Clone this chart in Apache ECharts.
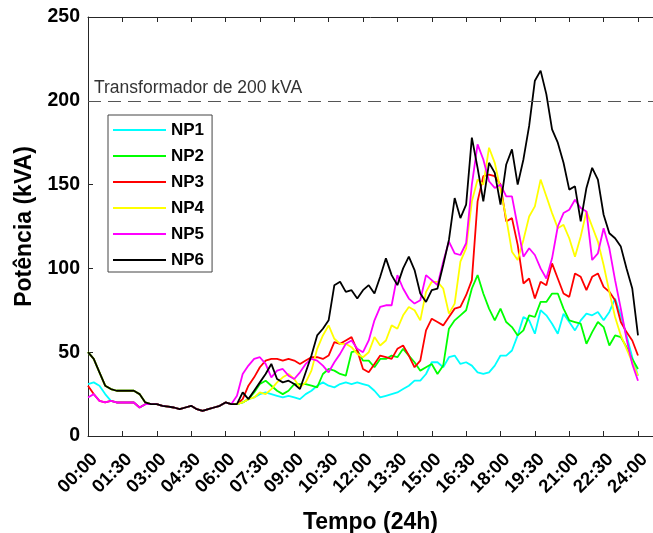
<!DOCTYPE html>
<html>
<head>
<meta charset="utf-8">
<script src="https://cdn.jsdelivr.net/npm/echarts@6/dist/echarts.min.js"></script>
<style>
  html, body { margin: 0; padding: 0; background: #fff; }
  #chart { width: 653px; height: 533px; }
</style>
</head>
<body>
<div id="chart"></div>
<script>
// 15-minute samples, 00:00 .. 24:00
var hours = [];
for (var i = 0; i <= 96; i++) hours.push(i / 4);

var seriesNames = ['NP1', 'NP2', 'NP3', 'NP4', 'NP5', 'NP6'];
var seriesColors = ['#00ffff', '#00ff00', '#ff0000', '#ffff00', '#ff00ff', '#000000'];

var np1 = [31,32,30,25,21,20,20,20,20,17,19,19,19,18,17.5,17,16,17,18,16,
  15,16,17,18,20,19,19,20,22,23,25,26,25,24,23,24,23,22,25,27,
  30,32,30,29,31,32,31,32,31,30,27,23,24,25,26,28,30,33,33,37,
  44,44,41,47,48,43,44,42,38,37,38,42,48,48,51,60,71,69,61,75,
  72,67,61,73,68,63,69,73,72,74,69,74,82,72,60,47,36];
var np2 = [50,46,38,30,28,27,27,27,27,25,20,19,19,18,17.5,17,16,17,18,16,
  15,16,17,18,20,19,19,20,22,26,31,33,30,27,25,27,31,31,31,30,
  29,37,40,39,37,36,50,51,45,45,41,46,46,48,47,52,48,44,39,41,
  43,37,42,64,69,72,75,88,96,85,76,69,76,68,65,60,63,72,71,80,
  80,85,85,76,69,68,67,55,62,68,65,54,60,59,53,46,40];
var np3 = [30,25,21,20,21,20,20,20,20,17,19,19,19,18,17.5,17,16,17,18,16,
  15,16,17,18,20,19,19,22,30,35,41,45,46,46,45,46,45,43,45,47,
  47,46,48,56,55,57,59,51,40,38,43,48,47,46,52,54,48,41,45,63,
  70,68,66,71,76,77,84,93,140,155,156,155,150,128,130,114,91,94,82,92,
  90,103,94,85,83,97,95,87,95,97,89,86,81,68,62,57,48];
var np4 = [50,46,38,30,28,27,27,27,27,25,20,19,19,18,17.5,17,16,17,18,16,
  15,16,17,18,20,19,19,20,22,23,26,25,28,32,35,37,34,29,32,39,
  52,60,66,58,55,55,53,49,47,50,59,54,57,66,64,72,77,75,69,86,
  92,92,88,73,79,104,112,140,153,150,172,163,147,130,110,105,117,131,137,153,
  143,133,124,126,118,107,119,134,125,116,102,86,71,60,52,44,36];
var np5 = [23,25,21,20,21,20,20,20,20,17,19,19,19,18,17.5,17,16,17,18,16,
  15,16,17,18,20,19,24,37,42,46,47,43,35,39,40,36,34,38,43,46,
  45,42,38,44,49,55,57,52,50,57,69,77,78,78,96,88,82,79,81,96,
  93,90,104,116,109,108,115,150,174,165,152,148,150,143,143,125,107,112,108,100,
  94,106,125,133,135,141,136,134,105,109,124,112,93,76,58,43,33];
var np6 = [50,46,38,30,28,27,27,27,27,25,20,19,19,18,17.5,17,16,17,18,16,
  15,16,17,18,20,19,19,26,22,27,32,37,43,34,32,33,31,28,38,48,
  60,64,69,90,92,86,87,82,87,90,85,95,106,96,90,100,107,99,85,80,
  87,88,102,117,142,130,138,178,160,140,163,157,138,162,171,150,165,185,212,218,
  204,183,175,163,147,149,128,148,160,153,132,121,118,113,100,88,60];
var allValues = [np1, np2, np3, np4, np5, np6];

var limitValue = 200;
var limitLabel = 'Transformador de 200 kVA';

var yMin = 0, yMax = 250, yStep = 50;
var xStep = 1.5;
// the plot box is cut off by the right edge of the picture
var xMax = 24 * 565 / 550;

function pad(n) { return (n < 10 ? '0' : '') + n; }
function hhmm(v) {
  if (v > 24.001) return '';
  var h = Math.floor(v + 1e-6);
  var m = Math.round((v - h) * 60);
  return pad(h) + ':' + pad(m);
}

var mychart = echarts.init(document.getElementById('chart'), null, { renderer: 'canvas' });

var series = seriesNames.map(function (name, k) {
  var s = {
    name: name,
    type: 'line',
    symbol: 'none',
    showSymbol: false,
    animation: false,
    data: hours.map(function (h, i) { return [h, allValues[k][i]]; }),
    lineStyle: { color: seriesColors[k], width: 1.8 },
    itemStyle: { color: seriesColors[k] }
  };
  if (k === 0) {
    s.markLine = {
      silent: true,
      symbol: ['none', 'none'],
      animation: false,
      lineStyle: { color: '#555', type: [13, 7], width: 1.2 },
      label: {
        show: true,
        position: 'insideStartTop',
        formatter: limitLabel,
        color: '#333',
        fontFamily: 'Liberation Sans',
        fontSize: 17.5,
        distance: [6, 4]
      },
      data: [{ yAxis: limitValue }]
    };
  }
  return s;
});

var boldFont = 'Liberation Sans';
var frameColor = '#262626';

mychart.setOption({
  backgroundColor: '#fff',
  animation: false,
  grid: { left: 88, top: 17, right: 0, bottom: 97, show: false, outerBoundsMode: 'none' },
  legend: {
    orient: 'vertical',
    left: 108, top: 115,
    icon: 'rect',
    itemWidth: 53, itemHeight: 1.8, itemGap: 6,
    padding: [5, 8, 2, 5],
    backgroundColor: '#fff',
    borderColor: '#444', borderWidth: 1,
    textStyle: { fontFamily: boldFont, fontWeight: 'bold', fontSize: 17, color: '#000', lineHeight: 20 },
    data: seriesNames
  },
  xAxis: [{
    type: 'value', min: 0, max: xMax, interval: xStep,
    name: 'Tempo (24h)', nameLocation: 'middle', nameGap: 75,
    nameTextStyle: { fontFamily: boldFont, fontWeight: 'bold', fontSize: 23, color: '#000' },
    axisLine: { show: true, lineStyle: { color: frameColor } },
    axisTick: { inside: true, length: 5, lineStyle: { color: frameColor } },
    axisLabel: {
      rotate: 45, margin: 14, showMaxLabel: false,
      verticalAlign: 'top',
      fontFamily: boldFont, fontWeight: 'bold', fontSize: 18.5, color: '#000',
      formatter: hhmm
    },
    splitLine: { show: false }
  }, {
    type: 'value', position: 'top', min: 0, max: xMax, interval: xStep,
    axisLine: { show: true, lineStyle: { color: frameColor } },
    axisTick: { inside: true, length: 5, lineStyle: { color: frameColor } },
    axisLabel: { show: false },
    splitLine: { show: false }
  }],
  yAxis: {
    type: 'value', min: yMin, max: yMax, interval: yStep,
    name: 'Potência (kVA)', nameLocation: 'middle', nameGap: 43,
    nameTextStyle: { fontFamily: boldFont, fontWeight: 'bold', fontSize: 23, color: '#000' },
    axisLine: { show: true, lineStyle: { color: frameColor } },
    axisTick: { inside: true, length: 5, lineStyle: { color: frameColor } },
    axisLabel: { margin: 8, fontFamily: boldFont, fontWeight: 'bold', fontSize: 19.5, color: '#000' },
    splitLine: { show: false }
  },
  series: series
});
</script>
</body>
</html>
